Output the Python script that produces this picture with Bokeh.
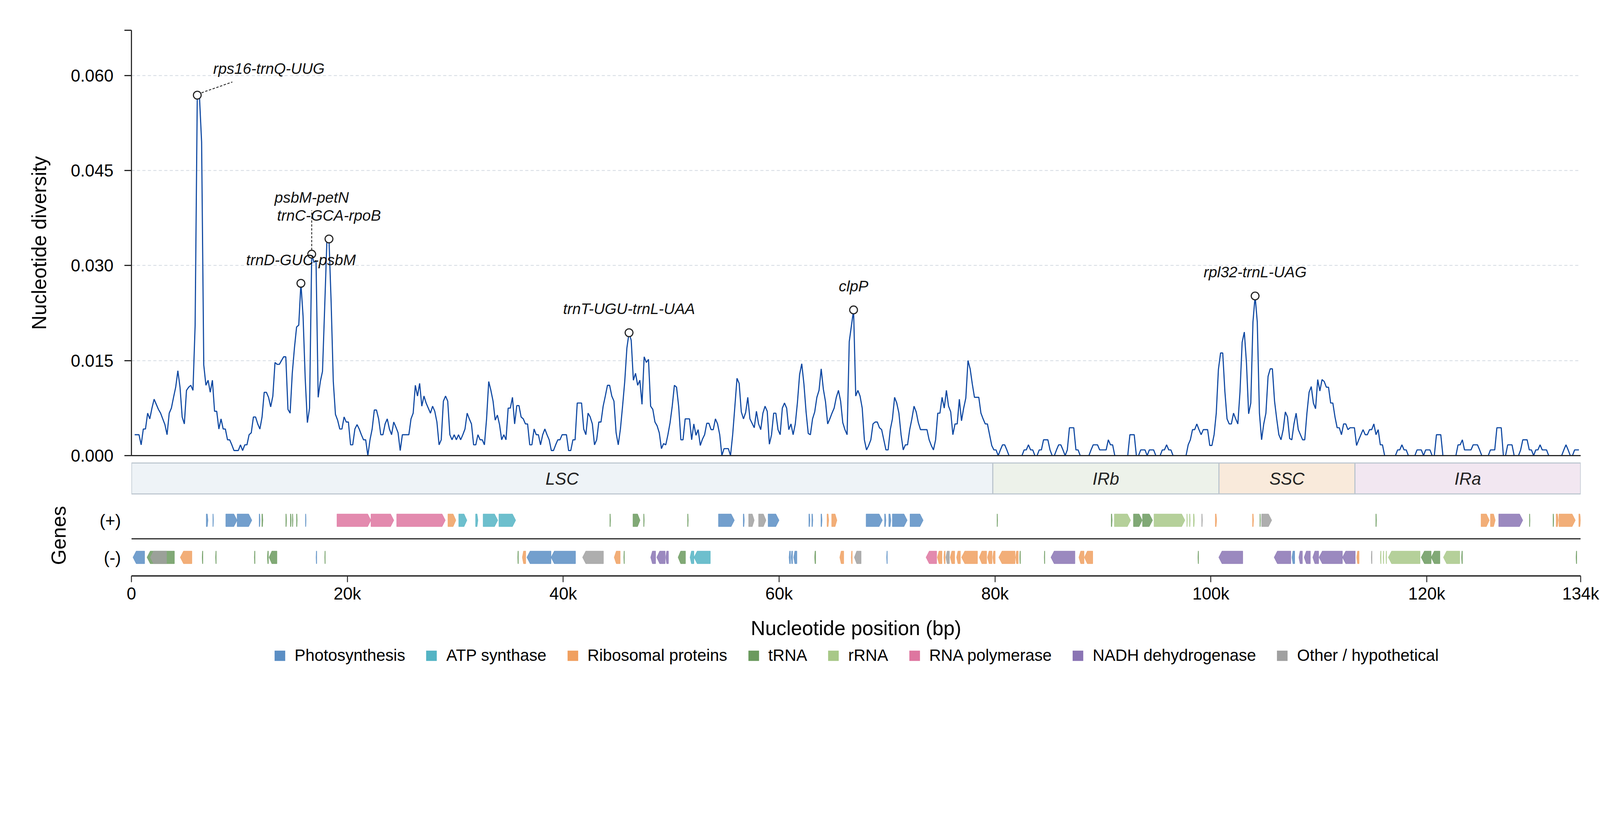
import numpy as np
from bokeh.plotting import figure
from bokeh.layouts import column
from bokeh.models import Range1d, FixedTicker, CustomJSTickFormatter, Span, ColumnDataSource
from bokeh.core.properties import value
from bokeh.embed import file_html
from bokeh.resources import INLINE

FONT = "Liberation Sans"

# sliding-window nucleotide diversity, window midpoints every 200 bp starting at 300 bp
window_start = 300
window_step = 200
diversity = [
    0.0033, 0.0033, 0.0033, 0.0017, 0.0042, 0.0042, 0.0067, 0.0058, 0.0075, 0.0089,
    0.0081, 0.0073, 0.0067, 0.0058, 0.0049, 0.0033, 0.0067, 0.0075, 0.0092, 0.0108,
    0.0134, 0.0108, 0.0061, 0.0050, 0.0103, 0.0108, 0.0111, 0.0103, 0.0206, 0.0569,
    0.0567, 0.0495, 0.0143, 0.0111, 0.0119, 0.0100, 0.0119, 0.0070, 0.0070, 0.0042,
    0.0058, 0.0042, 0.0042, 0.0025, 0.0025, 0.0017, 0.0008, 0.0008, 0.0008, 0.0017,
    0.0008, 0.0017, 0.0017, 0.0033, 0.0036, 0.0061, 0.0061, 0.0050, 0.0042, 0.0061,
    0.0100, 0.0100, 0.0092, 0.0077, 0.0094, 0.0147, 0.0144, 0.0144, 0.0150, 0.0156,
    0.0156, 0.0073, 0.0067, 0.0130, 0.0170, 0.0203, 0.0206, 0.0272, 0.0220, 0.0121,
    0.0052, 0.0075, 0.0318, 0.0305, 0.0308, 0.0092, 0.0117, 0.0133, 0.0233, 0.0336,
    0.0342, 0.0242, 0.0117, 0.0065, 0.0056, 0.0042, 0.0042, 0.0061, 0.0053, 0.0053,
    0.0017, 0.0017, 0.0042, 0.0049, 0.0042, 0.0033, 0.0025, 0.0025, 0.0000, 0.0025,
    0.0042, 0.0072, 0.0072, 0.0058, 0.0033, 0.0033, 0.0050, 0.0058, 0.0042, 0.0033,
    0.0053, 0.0045, 0.0036, 0.0008, 0.0033, 0.0033, 0.0033, 0.0033, 0.0058, 0.0067,
    0.0111, 0.0094, 0.0114, 0.0078, 0.0094, 0.0083, 0.0075, 0.0067, 0.0078, 0.0070,
    0.0053, 0.0017, 0.0025, 0.0086, 0.0094, 0.0086, 0.0033, 0.0025, 0.0033, 0.0025,
    0.0033, 0.0025, 0.0033, 0.0042, 0.0067, 0.0058, 0.0050, 0.0017, 0.0017, 0.0033,
    0.0025, 0.0025, 0.0017, 0.0058, 0.0117, 0.0103, 0.0086, 0.0056, 0.0064, 0.0049,
    0.0025, 0.0033, 0.0025, 0.0075, 0.0075, 0.0092, 0.0050, 0.0079, 0.0079, 0.0061,
    0.0058, 0.0050, 0.0050, 0.0017, 0.0017, 0.0042, 0.0033, 0.0033, 0.0017, 0.0033,
    0.0042, 0.0033, 0.0025, 0.0008, 0.0008, 0.0017, 0.0025, 0.0025, 0.0033, 0.0033,
    0.0033, 0.0008, 0.0008, 0.0025, 0.0025, 0.0083, 0.0083, 0.0083, 0.0042, 0.0033,
    0.0067, 0.0061, 0.0050, 0.0017, 0.0025, 0.0053, 0.0053, 0.0078, 0.0094, 0.0111,
    0.0111, 0.0094, 0.0086, 0.0036, 0.0017, 0.0042, 0.0078, 0.0117, 0.0170, 0.0194,
    0.0182, 0.0119, 0.0130, 0.0111, 0.0119, 0.0081, 0.0156, 0.0147, 0.0152, 0.0078,
    0.0073, 0.0053, 0.0047, 0.0036, 0.0011, 0.0019, 0.0017, 0.0033, 0.0052, 0.0078,
    0.0111, 0.0108, 0.0077, 0.0025, 0.0025, 0.0058, 0.0058, 0.0058, 0.0025, 0.0050,
    0.0032, 0.0041, 0.0016, 0.0026, 0.0033, 0.0051, 0.0051, 0.0041, 0.0041, 0.0058,
    0.0050, 0.0033, 0.0000, 0.0011, 0.0011, 0.0011, 0.0000, 0.0033, 0.0077, 0.0122,
    0.0114, 0.0069, 0.0058, 0.0068, 0.0092, 0.0058, 0.0051, 0.0044, 0.0070, 0.0050,
    0.0041, 0.0067, 0.0078, 0.0070, 0.0018, 0.0033, 0.0067, 0.0067, 0.0041, 0.0033,
    0.0075, 0.0083, 0.0075, 0.0041, 0.0050, 0.0033, 0.0050, 0.0084, 0.0128, 0.0145,
    0.0113, 0.0069, 0.0035, 0.0033, 0.0058, 0.0069, 0.0092, 0.0103, 0.0137, 0.0105,
    0.0085, 0.0050, 0.0058, 0.0067, 0.0075, 0.0092, 0.0103, 0.0086, 0.0052, 0.0041,
    0.0033, 0.0180, 0.0205, 0.0230, 0.0094, 0.0103, 0.0094, 0.0075, 0.0025, 0.0009,
    0.0016, 0.0025, 0.0050, 0.0053, 0.0053, 0.0044, 0.0041, 0.0025, 0.0009, 0.0009,
    0.0041, 0.0058, 0.0092, 0.0083, 0.0067, 0.0033, 0.0009, 0.0017, 0.0017, 0.0041,
    0.0058, 0.0078, 0.0069, 0.0052, 0.0041, 0.0041, 0.0041, 0.0041, 0.0025, 0.0016,
    0.0009, 0.0025, 0.0067, 0.0067, 0.0092, 0.0075, 0.0103, 0.0078, 0.0069, 0.0033,
    0.0050, 0.0050, 0.0089, 0.0055, 0.0075, 0.0091, 0.0150, 0.0137, 0.0113, 0.0092,
    0.0092, 0.0092, 0.0067, 0.0058, 0.0050, 0.0050, 0.0033, 0.0016, 0.0009, 0.0009,
    0.0000, 0.0009, 0.0017, 0.0017, 0.0009, 0.0000, 0.0000, 0.0000, 0.0000, 0.0000,
    0.0000, 0.0000, 0.0009, 0.0009, 0.0017, 0.0009, 0.0009, 0.0000, 0.0000, 0.0009,
    0.0009, 0.0025, 0.0025, 0.0025, 0.0009, 0.0000, 0.0000, 0.0009, 0.0017, 0.0017,
    0.0009, 0.0000, 0.0009, 0.0044, 0.0044, 0.0044, 0.0009, 0.0009, 0.0000, 0.0000,
    0.0000, 0.0000, 0.0000, 0.0009, 0.0017, 0.0017, 0.0017, 0.0009, 0.0009, 0.0009,
    0.0009, 0.0025, 0.0017, 0.0017, 0.0000, 0.0000, 0.0000, 0.0000, 0.0000, 0.0000,
    0.0000, 0.0033, 0.0033, 0.0033, 0.0000, 0.0000, 0.0009, 0.0009, 0.0009, 0.0000,
    0.0009, 0.0009, 0.0009, 0.0000, 0.0000, 0.0000, 0.0009, 0.0009, 0.0017, 0.0009,
    0.0009, 0.0000, 0.0000, 0.0000, 0.0000, 0.0000, 0.0000, 0.0000, 0.0017, 0.0025,
    0.0041, 0.0041, 0.0050, 0.0041, 0.0033, 0.0041, 0.0041, 0.0041, 0.0016, 0.0016,
    0.0033, 0.0067, 0.0136, 0.0162, 0.0162, 0.0101, 0.0058, 0.0050, 0.0050, 0.0067,
    0.0058, 0.0050, 0.0101, 0.0179, 0.0195, 0.0146, 0.0066, 0.0083, 0.0211, 0.0252,
    0.0211, 0.0067, 0.0025, 0.0050, 0.0067, 0.0125, 0.0137, 0.0137, 0.0086, 0.0058,
    0.0033, 0.0025, 0.0041, 0.0069, 0.0061, 0.0027, 0.0025, 0.0050, 0.0067, 0.0041,
    0.0033, 0.0025, 0.0025, 0.0067, 0.0100, 0.0109, 0.0083, 0.0074, 0.0120, 0.0102,
    0.0120, 0.0117, 0.0108, 0.0108, 0.0083, 0.0083, 0.0061, 0.0044, 0.0044, 0.0033,
    0.0050, 0.0050, 0.0041, 0.0044, 0.0044, 0.0044, 0.0016, 0.0025, 0.0033, 0.0041,
    0.0033, 0.0033, 0.0041, 0.0041, 0.0050, 0.0033, 0.0041, 0.0017, 0.0017, 0.0000,
    0.0000, 0.0000, 0.0000, 0.0000, 0.0000, 0.0009, 0.0009, 0.0017, 0.0009, 0.0009,
    0.0000, 0.0000, 0.0000, 0.0000, 0.0009, 0.0009, 0.0009, 0.0000, 0.0009, 0.0009,
    0.0009, 0.0000, 0.0000, 0.0033, 0.0033, 0.0033, 0.0000, 0.0000, 0.0000, 0.0000,
    0.0000, 0.0000, 0.0000, 0.0017, 0.0017, 0.0025, 0.0009, 0.0009, 0.0009, 0.0009,
    0.0017, 0.0017, 0.0017, 0.0009, 0.0000, 0.0000, 0.0000, 0.0000, 0.0009, 0.0009,
    0.0009, 0.0044, 0.0044, 0.0044, 0.0000, 0.0000, 0.0017, 0.0017, 0.0017, 0.0000,
    0.0000, 0.0000, 0.0009, 0.0025, 0.0025, 0.0025, 0.0009, 0.0009, 0.0000, 0.0009,
    0.0009, 0.0017, 0.0009, 0.0009, 0.0009, 0.0000, 0.0000, 0.0000, 0.0000, 0.0000,
    0.0000, 0.0000, 0.0009, 0.0017, 0.0009, 0.0000, 0.0000, 0.0009, 0.0009, 0.0009,
]

genome_length = 134260
x_ticks = [0, 20000, 40000, 60000, 80000, 100000, 120000, genome_length]
y_ticks = [0.0, 0.015, 0.030, 0.045, 0.060]

# hotspots marked on the curve
peak_labels = ["rps16-trnQ-UUG", "trnD-GUC-psbM", "psbM-petN", "trnC-GCA-rpoB",
               "trnT-UGU-trnL-UAA", "clpP", "rpl32-trnL-UAG"]
peak_positions = [6100, 15700, 16700, 18300, 46100, 66900, 104100]

# quadripartite structure
region_names = ["LSC", "IRb", "SSC", "IRa"]
region_start = [0, 79800, 100750, 113350]
region_end = [79800, 100750, 113350, genome_length]

# gene classes
class_codes = ["PS", "ATP", "RP", "TRNA", "RRNA", "RPO", "NDH", "OTH"]
class_labels = ["Photosynthesis", "ATP synthase", "Ribosomal proteins", "tRNA", "rRNA",
                "RNA polymerase", "NADH dehydrogenase", "Other / hypothetical"]

# genes on the (+) strand
plus_start = [6930, 7540, 8740, 9790, 11830, 12080, 14300, 14720, 14910, 15290,
              16120, 19040, 22190, 24570, 29320, 30320, 31880, 32580, 34040, 44320,
              46460, 47450, 51520, 54380, 56680, 57180, 58100, 58980, 62760, 63030,
              63880, 64440, 64870, 68060, 69770, 70160, 70490, 72130, 80190, 90770,
              91060, 92830, 93670, 94730, 97770, 98020, 98380, 99150, 100410, 103860,
              104540, 104700, 115280, 125030, 125900, 126670, 129510, 131700, 131990, 132250,
              134090]
plus_end = [7090, 7600, 9790, 11160, 11920, 12180, 14370, 14810, 14970, 15360,
            16180, 22190, 24310, 29080, 30060, 31080, 32100, 33940, 35600, 44390,
            47120, 47510, 51590, 55860, 56780, 57700, 58790, 60000, 62860, 63130,
            63980, 64600, 65360, 69570, 69900, 70360, 71870, 73350, 80250, 90860,
            92570, 93640, 94600, 97600, 97830, 98090, 98480, 99220, 100540, 103960,
            104600, 105640, 115350, 125800, 126350, 128900, 129570, 131770, 132190, 133770,
            134250]
plus_class = ["PS", "PS", "PS", "PS", "PS", "TRNA", "TRNA", "TRNA", "TRNA", "TRNA",
              "PS", "RPO", "RPO", "RPO", "RP", "ATP", "ATP", "ATP", "ATP", "TRNA",
              "TRNA", "TRNA", "TRNA", "PS", "PS", "OTH", "OTH", "PS", "PS", "PS",
              "PS", "RP", "RP", "PS", "PS", "PS", "PS", "PS", "TRNA", "TRNA",
              "RRNA", "TRNA", "TRNA", "RRNA", "RRNA", "RRNA", "RRNA", "OTH", "RP", "RP",
              "TRNA", "OTH", "TRNA", "RP", "RP", "NDH", "TRNA", "TRNA", "RP", "RP",
              "RP"]

# genes on the (-) strand
minus_start = [140, 1440, 1750, 4520, 6550, 7790, 11380, 12590, 12750, 17100,
               17900, 35780, 36210, 36630, 38870, 41790, 44720, 45610, 48100, 48660,
               49490, 50640, 51750, 52110, 60920, 61120, 61350, 63290, 65620, 66680,
               66970, 69960, 73610, 74660, 75260, 75450, 75850, 76440, 76900, 78540,
               79300, 79790, 80350, 81900, 82290, 84560, 85180, 87770, 88280, 98800,
               100730, 105860, 107510, 108150, 108640, 109440, 110020, 112190, 113510, 114860,
               115700, 115960, 116220, 116440, 119480, 120410, 121540, 123220, 133830]
minus_end = [1220, 3980, 3250, 5600, 6620, 7860, 11450, 12690, 13480, 17170,
             17960, 35850, 36530, 38870, 41140, 43730, 45280, 45670, 48560, 49450,
             49750, 51330, 52110, 53630, 61060, 61250, 61650, 63390, 65990, 66780,
             67600, 70030, 74600, 75090, 75390, 75780, 76270, 76800, 78380, 79230,
             79730, 80020, 81860, 82160, 82360, 84620, 87410, 88250, 89060, 98860,
             102960, 107410, 107770, 108480, 109220, 109990, 112190, 113380, 113730, 114930,
             115770, 116020, 116280, 119380, 120410, 121220, 123060, 123310, 133900]
minus_class = ["PS", "TRNA", "OTH", "RP", "TRNA", "TRNA", "TRNA", "TRNA", "TRNA", "PS",
               "TRNA", "TRNA", "RP", "PS", "PS", "OTH", "RP", "TRNA", "NDH", "NDH",
               "NDH", "TRNA", "ATP", "ATP", "PS", "PS", "PS", "TRNA", "RP", "RP",
               "OTH", "PS", "RPO", "RP", "RP", "OTH", "RP", "RP", "RP", "RP",
               "RP", "RP", "RP", "RP", "TRNA", "TRNA", "NDH", "RP", "RP", "TRNA",
               "NDH", "NDH", "PS", "NDH", "NDH", "NDH", "NDH", "NDH", "RP", "OTH",
               "RRNA", "RRNA", "RRNA", "RRNA", "TRNA", "TRNA", "RRNA", "TRNA", "TRNA"]

# ---- styling ----
class_colors = ["#5b8ec4", "#54b4c4", "#f0a060", "#6b9a5e", "#a8c888",
                "#de76a0", "#8a74b4", "#a0a0a0"]
region_fill = ["#eef3f7", "#edf2ea", "#f9eadb", "#f2e7f1"]
color_of = dict(zip(class_codes, class_colors))
AXIS = "#262626"

# the page is photographed slightly enlarged; sizes below are in reference pixels
S = 1 / 1.053


def px(v):
    return v * S


def fs(v):
    return "%.1fpx" % (v * S)


LEFT = round(px(354))
FRAME_W = round(px(3907))
TOTAL_W = round(px(4322)) - 4
RIGHT = TOTAL_W - LEFT - FRAME_W
TOP_A = round(px(81))
FRAME_A = round(px(1147))
R_TOP = round(px(1246))
BOTTOM_A = R_TOP - TOP_A - FRAME_A
R_H = round(px(88))
FRAME_G = round(px(218))
BOTTOM_G = round(px(180))
LEG_H = round(px(70))
Y_TOP = 0.06714

x_range = Range1d(0, genome_length)

positions = window_start + window_step * np.arange(len(diversity))
div = np.array(diversity)

# ---- nucleotide diversity panel ----
p = figure(width=TOTAL_W, height=TOP_A + FRAME_A + BOTTOM_A, x_range=x_range,
           y_range=Range1d(0, Y_TOP), output_backend="svg", toolbar_location=None,
           min_border_left=LEFT, min_border_right=RIGHT,
           min_border_top=TOP_A, min_border_bottom=BOTTOM_A)
p.outline_line_color = None
p.xgrid.grid_line_color = None
p.ygrid.ticker = FixedTicker(ticks=y_ticks[1:])
p.ygrid.grid_line_color = "#d3dae1"
p.ygrid.grid_line_dash = "8 6"
p.ygrid.grid_line_width = 2

p.line(positions, div, line_color="#0d47a1", line_width=px(3))

idx = [(pos - window_start) // window_step for pos in peak_positions]
peak_x = positions[idx]
peak_y = div[idx]

# label offsets in reference pixels (x right, y down)
label_dx = [193, 0, 0, 0, 0, 0, 0]
label_dy = [-72, -63, -153, -63, -65, -64, -64]
bp_per_px = genome_length / FRAME_W
val_per_px = Y_TOP / FRAME_A
# dashed leaders for the two displaced labels: (peak index, start, end)
leaders = [(0, (11.5, -6.4), (94.5, -35.4)), (2, (0, -11), (0, -118))]
p.segment(x0=[peak_x[i] + px(a[0]) * bp_per_px for i, a, b in leaders],
          y0=[peak_y[i] - px(a[1]) * val_per_px for i, a, b in leaders],
          x1=[peak_x[i] + px(b[0]) * bp_per_px for i, a, b in leaders],
          y1=[peak_y[i] - px(b[1]) * val_per_px for i, a, b in leaders],
          line_color="#333333", line_width=px(2.5), line_dash="6 4")

p.scatter(peak_x, peak_y, marker="circle", size=px(21), fill_color="white",
          line_color="#222222", line_width=px(3))
p.text(x=peak_x, y=peak_y, text=peak_labels,
       x_offset=[px(v) for v in label_dx], y_offset=[px(v) for v in label_dy],
       text_align="center", text_baseline="alphabetic", text_font=value(FONT),
       text_font_style="italic", text_font_size=fs(41), text_color="#111111")

p.xaxis.ticker = FixedTicker(ticks=[])
p.xaxis.axis_line_width = px(3)
p.xaxis.axis_line_color = AXIS

p.yaxis.ticker = FixedTicker(ticks=y_ticks + [Y_TOP])
p.yaxis.formatter = CustomJSTickFormatter(code="return tick > 0.0605 ? '' : tick.toFixed(3);")
p.yaxis.axis_line_width = px(3)
p.yaxis.axis_line_color = AXIS
p.yaxis.major_tick_line_width = px(3)
p.yaxis.major_tick_line_color = AXIS
p.yaxis.major_tick_out = round(px(19))
p.yaxis.major_tick_in = 0
p.yaxis.minor_tick_line_color = None
p.yaxis.major_label_standoff = round(px(30))
p.yaxis.major_label_text_font = FONT
p.yaxis.major_label_text_font_size = fs(46)
p.yaxis.major_label_text_color = "black"
p.yaxis.axis_label = "Nucleotide diversity"
p.yaxis.axis_label_text_font = FONT
p.yaxis.axis_label_text_font_size = fs(54)
p.yaxis.axis_label_text_font_style = "normal"
p.yaxis.axis_label_text_color = "black"
p.yaxis.axis_label_standoff = round(px(52))

# ---- region bar ----
r = figure(width=TOTAL_W, height=R_H, x_range=x_range, y_range=Range1d(-0.036, 1.024),
           output_backend="svg", toolbar_location=None,
           x_axis_location=None, y_axis_location=None,
           min_border_left=LEFT, min_border_right=RIGHT, min_border_top=0, min_border_bottom=0)
r.outline_line_color = None
r.grid.grid_line_color = None
r.quad(left=region_start, right=region_end, bottom=0, top=1, fill_color=region_fill,
       line_color="#bcc6cf", line_width=px(3))
r.text(x=[(a + b) / 2 for a, b in zip(region_start, region_end)], y=[0.5] * 4,
       text=region_names, text_align="center", text_baseline="middle",
       text_font=value(FONT), text_font_style="italic", text_font_size=fs(46),
       text_color="#222222")

# ---- gene map ----
g = figure(width=TOTAL_W, height=FRAME_G + BOTTOM_G, x_range=x_range,
           y_range=Range1d(-1.0, 1.18), output_backend="svg", toolbar_location=None,
           min_border_left=LEFT, min_border_right=RIGHT, min_border_top=0,
           min_border_bottom=BOTTOM_G)
g.outline_line_color = None
g.grid.grid_line_color = None


def arrow(start, end, strand, yc, h=0.17):
    tip = min(0.35 * (end - start), 300)
    if strand > 0:
        xs = [start, end - tip, end, end - tip, start]
    else:
        xs = [end, start + tip, start, start + tip, end]
    return xs, [yc - h, yc - h, yc, yc + h, yc + h]


xs, ys, cols = [], [], []
for starts, ends, classes, strand in [(plus_start, plus_end, plus_class, 1),
                                      (minus_start, minus_end, minus_class, -1)]:
    for s, e, c in zip(starts, ends, classes):
        gx, gy = arrow(s, e, strand, 0.5 * strand)
        xs.append(gx)
        ys.append(gy)
        cols.append(color_of[c])
g.patches(xs="xs", ys="ys", source=ColumnDataSource(dict(xs=xs, ys=ys, c=cols)),
          fill_color="c", line_color="c", fill_alpha=0.85, line_alpha=0.85, line_width=1)
g.add_layout(Span(location=0, dimension="width", line_color="#2b2b2b", line_width=px(3)))

g.xaxis.ticker = FixedTicker(ticks=x_ticks)
g.xaxis.formatter = CustomJSTickFormatter(
    code="return tick == 0 ? '0' : Math.round(tick / 1000) + 'k';")
g.xaxis.axis_line_width = px(3.5)
g.xaxis.axis_line_color = AXIS
g.xaxis.major_tick_line_width = px(2.5)
g.xaxis.major_tick_line_color = AXIS
g.xaxis.major_tick_out = round(px(17))
g.xaxis.major_tick_in = 0
g.xaxis.minor_tick_line_color = None
g.xaxis.major_label_standoff = 4
g.xaxis.major_label_text_font = FONT
g.xaxis.major_label_text_font_size = fs(46)
g.xaxis.major_label_text_color = "black"
g.xaxis.axis_label = "Nucleotide position (bp)"
g.xaxis.axis_label_text_font = FONT
g.xaxis.axis_label_text_font_size = fs(54)
g.xaxis.axis_label_text_font_style = "normal"
g.xaxis.axis_label_text_color = "black"
g.xaxis.axis_label_standoff = round(px(35))

g.yaxis.ticker = FixedTicker(ticks=[-0.5, 0.5])
g.yaxis.formatter = CustomJSTickFormatter(code="return tick > 0 ? '(+)' : '(-)';")
g.yaxis.axis_line_color = None
g.yaxis.major_tick_line_color = None
g.yaxis.minor_tick_line_color = None
g.yaxis.major_label_standoff = round(px(22))
g.yaxis.major_label_text_font = FONT
g.yaxis.major_label_text_font_size = fs(46)
g.yaxis.major_label_text_color = "black"
g.yaxis.axis_label = "Genes"
g.yaxis.axis_label_text_font = FONT
g.yaxis.axis_label_text_font_size = fs(54)
g.yaxis.axis_label_text_font_style = "normal"
g.yaxis.axis_label_text_color = "black"
g.yaxis.axis_label_standoff = round(px(77))

# ---- legend strip ----
leg = figure(width=TOTAL_W, height=LEG_H, x_range=Range1d(0, 1), y_range=Range1d(0, 1),
             output_backend="svg", toolbar_location=None,
             x_axis_location=None, y_axis_location=None,
             min_border_left=LEFT, min_border_right=RIGHT, min_border_top=0, min_border_bottom=0)
leg.outline_line_color = None
leg.grid.grid_line_color = None
for name, c in zip(class_labels, class_colors):
    # swatch-only renderer, placed outside the visible range
    leg.quad(left=[-3], right=[-2], top=[-2], bottom=[-3], fill_color=c, line_color=None,
             legend_label=name)
lg = leg.legend[0]
lg.location = "center"
lg.orientation = "horizontal"
lg.glyph_width = round(px(36))
lg.glyph_height = round(px(35))
lg.label_standoff = round(px(22))
lg.spacing = round(px(53))
lg.padding = 0
lg.margin = 0
lg.border_line_color = None
lg.background_fill_alpha = 0
lg.label_text_font = FONT
lg.label_text_font_size = fs(44)
lg.label_text_color = "black"

layout = column(p, r, g, leg)
open("out.html", "w").write(file_html(layout, INLINE))
